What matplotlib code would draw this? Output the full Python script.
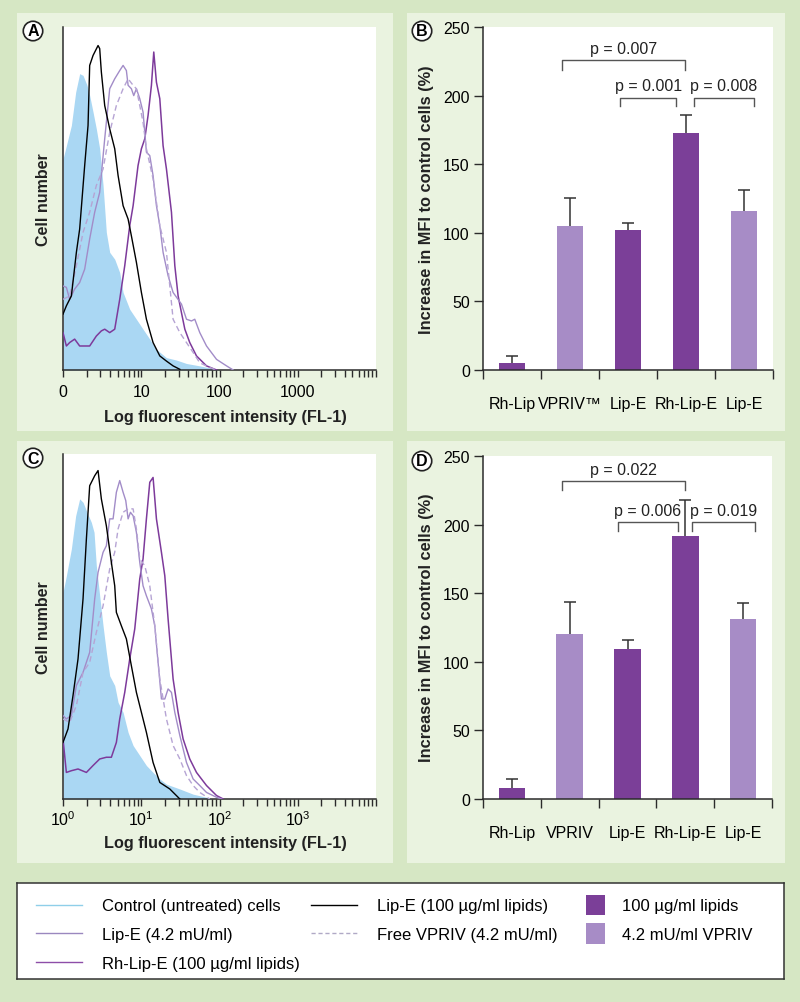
import numpy as np
import matplotlib
matplotlib.use("Agg")
import matplotlib.pyplot as plt
from matplotlib.patches import Rectangle, Patch
from matplotlib.lines import Line2D
from matplotlib.ticker import LogLocator, NullFormatter

W, H = 800, 1003
plt.rcParams['font.family'] = ['Liberation Sans', 'DejaVu Sans']
plt.rcParams['mathtext.fontset'] = 'custom'
plt.rcParams['mathtext.rm'] = 'Liberation Sans'

OUTER = '#d6e7c4'
PANEL = '#eaf3e0'
AXC = '#2b2b2b'
BLUE = '#aad7f3'
C_LIPE42 = '#a28cc8'
C_FREE = '#b6a4d4'
C_RH = '#7d3a9b'
BAR_DARK = '#7b3f98'
BAR_LIGHT = '#a78cc6'

# ---- histogramme (x = log10 intensité, y = nombre de cellules, échelle 0-100) ----
# panneau A
a_ctrl_lx = [0, 0.043, 0.107, 0.162, 0.213, 0.256, 0.307, 0.341, 0.384, 0.426, 0.469, 0.512, 0.554, 0.597,
             0.661, 0.725, 0.768, 0.853, 0.938, 1.023, 1.109, 1.194, 1.322, 1.450, 1.578, 1.748, 1.919, 2.004]
a_ctrl_n = [61.5, 65.4, 71.3, 81.0, 86.4, 85.9, 83.0, 80.0, 75.2, 70.3, 64.5, 53.8, 40.1, 34.3,
            32.3, 28.4, 22.6, 17.7, 14.8, 11.9, 9.0, 6.0, 3.6, 2.9, 1.9, 1.2, 0.4, 0]
a_lipe100_lx = [0, 0.043, 0.107, 0.171, 0.213, 0.277, 0.320, 0.341, 0.384, 0.448, 0.469, 0.490, 0.533, 0.597,
                0.661, 0.704, 0.768, 0.832, 0.874, 0.938, 1.002, 1.066, 1.151, 1.237, 1.322, 1.407, 1.493]
a_lipe100_n = [16.3, 18.7, 21.6, 34.3, 41.1, 59.6, 71.3, 88.8, 91.7, 94.6, 93.7, 86.9, 77.1, 70.3,
               64.5, 56.7, 47.9, 44.0, 39.1, 31.4, 22.6, 14.8, 8.0, 4.1, 2.6, 1.2, 0.2]
a_lipe42_lx = [0, 0.043, 0.085, 0.149, 0.213, 0.277, 0.341, 0.405, 0.469, 0.533, 0.597, 0.661, 0.725, 0.768,
               0.810, 0.832, 0.874, 0.904, 0.938, 0.981, 1.023, 1.045, 1.066, 1.109, 1.151, 1.194, 1.237, 1.279,
               1.343, 1.407, 1.514, 1.578, 1.642, 1.684, 1.748, 1.834, 1.962, 2.090, 2.175]
a_lipe42_n = [24.5, 24.1, 20.6, 23.6, 25.5, 29.4, 38.2, 46.0, 51.8, 67.4, 82.0, 84.9, 87.3, 88.8,
              87.3, 83.0, 82.0, 80.0, 82.0, 79.1, 75.2, 69.3, 63.5, 62.5, 56.7, 47.9, 42.1, 34.3,
              27.5, 22.6, 19.2, 14.8, 14.3, 14.8, 10.9, 7.0, 3.1, 1.2, 0]
a_free_lx = [0, 0.085, 0.171, 0.256, 0.341, 0.426, 0.512, 0.597, 0.682, 0.768, 0.832, 0.896, 0.938, 0.981,
             1.023, 1.066, 1.151, 1.237, 1.322, 1.407, 1.493, 1.578, 1.663, 1.748, 1.876, 1.962]
a_free_n = [20.6, 21.6, 30.4, 40.1, 46.0, 53.8, 58.6, 69.3, 77.1, 82.0, 84.9, 83.0, 82.0, 77.1,
            72.2, 64.5, 55.7, 42.1, 34.3, 14.8, 10.9, 8.0, 5.1, 2.1, 0.7, 0]
a_rh_lx = [0, 0.043, 0.085, 0.149, 0.213, 0.341, 0.426, 0.490, 0.533, 0.597, 0.661, 0.725, 0.789, 0.853,
           0.896, 0.959, 1.002, 1.045, 1.087, 1.130, 1.160, 1.194, 1.237, 1.279, 1.322, 1.386, 1.429, 1.471,
           1.514, 1.557, 1.620, 1.706, 1.834, 1.962]
a_rh_n = [10.9, 7.0, 8.0, 9.0, 7.0, 7.0, 9.9, 11.4, 11.9, 10.9, 11.9, 20.6, 30.4, 42.1,
          47.9, 59.6, 64.5, 67.4, 74.2, 83.0, 92.7, 83.9, 79.1, 65.4, 58.6, 46.0, 30.4, 21.6,
          16.7, 11.9, 8.0, 4.1, 1.2, 0]

# panneau C
c_ctrl_lx = [0, 0.043, 0.107, 0.162, 0.213, 0.256, 0.307, 0.362, 0.397, 0.426, 0.469, 0.512, 0.554, 0.597,
             0.661, 0.704, 0.768, 0.832, 0.896, 0.981, 1.066, 1.151, 1.237, 1.322, 1.493, 1.663, 1.834, 1.919]
c_ctrl_n = [59.9, 64.7, 72.5, 82.1, 87.0, 86.0, 83.1, 80.2, 77.3, 67.6, 58.9, 50.2, 42.5, 35.7,
            32.9, 28.0, 25.1, 19.3, 15.5, 12.6, 9.7, 7.7, 5.8, 4.3, 2.9, 1.4, 0.5, 0]
c_lipe100_lx = [0, 0.064, 0.128, 0.192, 0.256, 0.299, 0.341, 0.405, 0.448, 0.490, 0.554, 0.618, 0.661, 0.682,
                0.746, 0.810, 0.874, 0.938, 1.002, 1.066, 1.151, 1.237, 1.365, 1.493]
c_lipe100_n = [16.4, 20.3, 30.0, 40.6, 58.0, 75.4, 90.8, 93.7, 95.2, 87.0, 79.2, 68.6, 61.8, 54.1,
               50.2, 46.4, 38.6, 30.9, 25.1, 19.3, 10.6, 4.8, 2.9, 0]
c_lipe42_lx = [0, 0.043, 0.107, 0.171, 0.256, 0.341, 0.405, 0.448, 0.512, 0.554, 0.597, 0.640, 0.682, 0.725,
               0.768, 0.802, 0.832, 0.862, 0.896, 0.938, 0.981, 1.023, 1.066, 1.130, 1.173, 1.215, 1.258, 1.301,
               1.343, 1.386, 1.429, 1.493, 1.578, 1.663, 1.748, 1.834, 1.962, 2.026]
c_lipe42_n = [24.2, 23.2, 24.2, 32.9, 36.7, 42.5, 58.0, 65.7, 71.5, 73.4, 81.2, 81.2, 88.9, 92.3,
              88.9, 86.5, 81.2, 83.1, 82.1, 77.3, 68.6, 61.8, 58.9, 55.1, 50.2, 39.6, 29.0, 29.0,
              31.9, 30.9, 25.1, 18.4, 10.6, 5.8, 3.9, 1.9, 0.5, 0]
c_free_lx = [0, 0.085, 0.171, 0.256, 0.341, 0.426, 0.512, 0.597, 0.661, 0.704, 0.768, 0.832, 0.896, 0.938,
             0.981, 1.045, 1.109, 1.173, 1.237, 1.322, 1.407, 1.493, 1.578, 1.663, 1.748, 1.876]
c_free_n = [23.2, 22.2, 27.1, 36.7, 39.6, 48.3, 56.0, 66.7, 71.5, 78.3, 83.1, 84.1, 84.1, 78.3,
            69.6, 67.6, 61.8, 50.2, 34.8, 23.2, 15.5, 11.6, 6.8, 3.9, 1.9, 0]
c_rh_lx = [0, 0.043, 0.107, 0.192, 0.299, 0.384, 0.469, 0.554, 0.618, 0.682, 0.725, 0.789, 0.853, 0.917,
           0.981, 1.023, 1.066, 1.109, 1.151, 1.194, 1.258, 1.301, 1.343, 1.407, 1.471, 1.535, 1.620, 1.706,
           1.834, 1.962, 2.047]
c_rh_n = [17.4, 7.7, 8.2, 8.7, 7.7, 9.7, 11.6, 12.1, 12.1, 16.4, 23.2, 30.9, 40.6, 49.3,
          63.8, 69.6, 81.2, 91.8, 93.2, 81.2, 71.5, 64.7, 52.2, 34.8, 25.1, 17.4, 11.6, 7.7,
          3.9, 1.0, 0]

hist_ticks = [1, 10, 100, 1000, 10000]
a_ticklabels = ['0', '10', '100', '1000', '']
c_ticklabels = [r'$\mathregular{10^0}$', r'$\mathregular{10^1}$', r'$\mathregular{10^2}$',
                r'$\mathregular{10^3}$', '']

# ---- barres ----
categories_b = ['Rh-Lip', 'VPRIV™', 'Lip-E', 'Rh-Lip-E', 'Lip-E']
categories_d = ['Rh-Lip', 'VPRIV', 'Lip-E', 'Rh-Lip-E', 'Lip-E']
bar_kind = ['lipids', 'vpriv', 'lipids', 'lipids', 'vpriv']
b_mean = [5.4, 104.8, 101.9, 172.7, 116.0]
b_err = [5.1, 20.4, 4.9, 12.8, 15.0]
d_mean = [7.8, 120.4, 109.2, 191.7, 131.3]
d_err = [7.0, 23.0, 6.8, 26.3, 11.2]
# (x gauche, x droite, hauteur, bout des crochets, texte, y du texte)
b_brackets = [(0.86, 2.99, 225.7, 219.0, 'p = 0.007', 234.0),
              (1.87, 2.83, 198.4, 192.4, 'p = 0.001', 207.0),
              (3.13, 4.17, 198.4, 192.4, 'p = 0.008', 207.0)]
d_brackets = [(0.86, 3.00, 231.8, 225.2, 'p = 0.022', 240.3),
              (1.84, 2.87, 201.9, 195.4, 'p = 0.006', 210.0),
              (3.12, 4.20, 201.9, 195.4, 'p = 0.019', 210.0)]


def px_rect(x0, y0, x1, y1):
    return [x0 / W, 1 - y1 / H, (x1 - x0) / W, (y1 - y0) / H]


def histo(ax, curves, ticklabels, pad):
    (cl, cn), (l1, n1), (l2, n2), (l3, n3), (l4, n4) = curves
    ax.fill_between(10 ** np.array(cl), cn, color=BLUE, lw=0, zorder=1)
    ax.plot(10 ** np.array(l4), n4, color=C_RH, lw=1.1, zorder=3)
    ax.plot(10 ** np.array(l2), n2, color=C_LIPE42, lw=1.0, zorder=3)
    ax.plot(10 ** np.array(l3), n3, color=C_FREE, lw=1.0, ls=(0, (4, 2.5)), zorder=3)
    ax.plot(10 ** np.array(l1), n1, color='black', lw=1.0, zorder=4)
    ax.set_xscale('log')
    ax.set_xlim(1, 1e4)
    ax.set_ylim(0, 100)
    ax.set_xticks(hist_ticks)
    ax.set_xticklabels(ticklabels, fontsize=11.5)
    ax.xaxis.set_minor_locator(LogLocator(base=10, subs=np.arange(2, 10)))
    ax.xaxis.set_minor_formatter(NullFormatter())
    ax.tick_params(axis='x', which='both', direction='out', length=5, width=1, color=AXC, pad=pad)
    ax.tick_params(axis='y', left=False, labelleft=False)
    for s in ['top', 'right']:
        ax.spines[s].set_visible(False)
    for s in ['left', 'bottom']:
        ax.spines[s].set_color(AXC)
        ax.spines[s].set_linewidth(1.1)


def barplot(ax, cats, means, errs, brackets):
    x = np.arange(len(cats))
    cols = [BAR_DARK if k == 'lipids' else BAR_LIGHT for k in bar_kind]
    ax.bar(x, means, width=0.46, color=cols, zorder=2)
    eb = ax.errorbar(x, means, yerr=[np.zeros(len(x)), errs], fmt='none', ecolor='#333333',
                     elinewidth=1.1, capsize=4, capthick=1.1, zorder=1)
    # pas de trait de cap en bas (erreur vers le haut seulement)
    for cl in eb[1]:
        if np.allclose(cl.get_ydata(), means):
            cl.set_visible(False)
    for x0, x1, yh, yt, txt, ytx in brackets:
        ax.plot([x0, x0, x1, x1], [yt, yh, yh, yt], color='#555555', lw=1.0)
        ax.text((x0 + x1) / 2, ytx, txt, ha='center', va='center', fontsize=11.5, color='#222222')
    ax.set_xlim(-0.5, len(cats) - 0.5)
    ax.set_ylim(0, 250)
    ax.set_yticks(np.arange(0, 251, 50))
    ax.tick_params(axis='y', direction='out', length=6.5, width=1, color=AXC, labelsize=11.5, pad=3)
    ax.set_xticks(np.arange(-0.5, len(cats), 1.0))
    ax.set_xticklabels([])
    ax.set_xticks(x, minor=True)
    ax.set_xticklabels(cats, minor=True, fontsize=11.5)
    ax.tick_params(axis='x', which='major', direction='out', length=6.5, width=1, color=AXC)
    ax.tick_params(axis='x', which='minor', length=0, pad=19)
    for s in ['top', 'right']:
        ax.spines[s].set_visible(False)
    for s in ['left', 'bottom']:
        ax.spines[s].set_color(AXC)
        ax.spines[s].set_linewidth(1.1)


fig = plt.figure(figsize=(W / 100, H / 100), dpi=100, facecolor=OUTER)

# fonds des panneaux
for x0, y0, x1, y1 in [(17, 14, 393, 432), (407, 14, 785, 432), (17, 442, 393, 864), (407, 442, 785, 864)]:
    r = px_rect(x0, y0, x1, y1)
    fig.patches.append(Rectangle((r[0], r[1]), r[2], r[3], transform=fig.transFigure,
                                 fc=PANEL, ec='none', zorder=-10))

axA = fig.add_axes(px_rect(63, 28, 376, 371))
histo(axA, [(a_ctrl_lx, a_ctrl_n), (a_lipe100_lx, a_lipe100_n), (a_lipe42_lx, a_lipe42_n),
            (a_free_lx, a_free_n), (a_rh_lx, a_rh_n)], a_ticklabels, 5)
axC = fig.add_axes(px_rect(63, 455, 376, 800))
histo(axC, [(c_ctrl_lx, c_ctrl_n), (c_lipe100_lx, c_lipe100_n), (c_lipe42_lx, c_lipe42_n),
            (c_free_lx, c_free_n), (c_rh_lx, c_rh_n)], c_ticklabels, 2.5)

axB = fig.add_axes(px_rect(483, 28, 773, 371))
barplot(axB, categories_b, b_mean, b_err, b_brackets)
axD = fig.add_axes(px_rect(483, 457, 772, 800))
barplot(axD, categories_d, d_mean, d_err, d_brackets)

# titres d'axes
for yc in [200, 628]:
    fig.text(43 / W, 1 - yc / H, 'Cell number', rotation=90, ha='center', va='center',
             fontsize=11.5, fontweight='bold', color='#222222')
    fig.text(426 / W, 1 - yc / H, 'Increase in MFI to control cells (%)', rotation=90,
             ha='center', va='center', fontsize=11.8, fontweight='bold', color='#222222')
for yc in [418, 844]:
    fig.text(225 / W, 1 - yc / H, 'Log fluorescent intensity (FL-1)', ha='center', va='center',
             fontsize=11.7, fontweight='bold', color='#222222')

# lettres cerclées
for letter, xc, yc in [('A', 33, 32), ('B', 422, 32), ('C', 33, 459), ('D', 422, 462)]:
    fig.text(xc / W, 1 - yc / H, letter, ha='center', va='center', fontsize=11.5, fontweight='bold',
             bbox=dict(boxstyle='circle,pad=0.14', fc='white', ec='#222222', lw=1.2))

# légende
axL = fig.add_axes(px_rect(17, 884, 784, 980))
axL.set_xticks([])
axL.set_yticks([])
for s in axL.spines.values():
    s.set_color('#333333')
    s.set_linewidth(1.1)
col1 = [Line2D([], [], color='#8fcfe9', lw=1.0), Line2D([], [], color='#9a88bf', lw=1.0),
        Line2D([], [], color='#8d4ea8', lw=1.0)]
col2 = [Line2D([], [], color='black', lw=1.0), Line2D([], [], color='#b0a9c6', lw=1.0, ls=(0, (3, 2)))]
col3 = [Patch(fc=BAR_DARK, ec='none'), Patch(fc=BAR_LIGHT, ec='none')]
common = dict(loc='upper left', frameon=False, fontsize=12, borderpad=0, borderaxespad=0)
leg1 = axL.legend(col1, ['Control (untreated) cells', 'Lip-E (4.2 mU/ml)', 'Rh-Lip-E (100 µg/ml lipids)'],
                  bbox_to_anchor=(0.025, 0.84), handlelength=2.75, handletextpad=1.2, labelspacing=0.82, **common)
axL.add_artist(leg1)
leg2 = axL.legend(col2, ['Lip-E (100 µg/ml lipids)', 'Free VPRIV (4.2 mU/ml)'],
                  bbox_to_anchor=(0.383, 0.84), handlelength=2.75, handletextpad=1.2, labelspacing=0.82, **common)
axL.add_artist(leg2)
axL.legend(col3, ['100 µg/ml lipids', '4.2 mU/ml VPRIV'], bbox_to_anchor=(0.742, 0.88),
           handlelength=1.14, handleheight=1.5, handletextpad=1.0, labelspacing=0.5, **common)

fig.savefig('out.png', dpi=100, facecolor=OUTER)
